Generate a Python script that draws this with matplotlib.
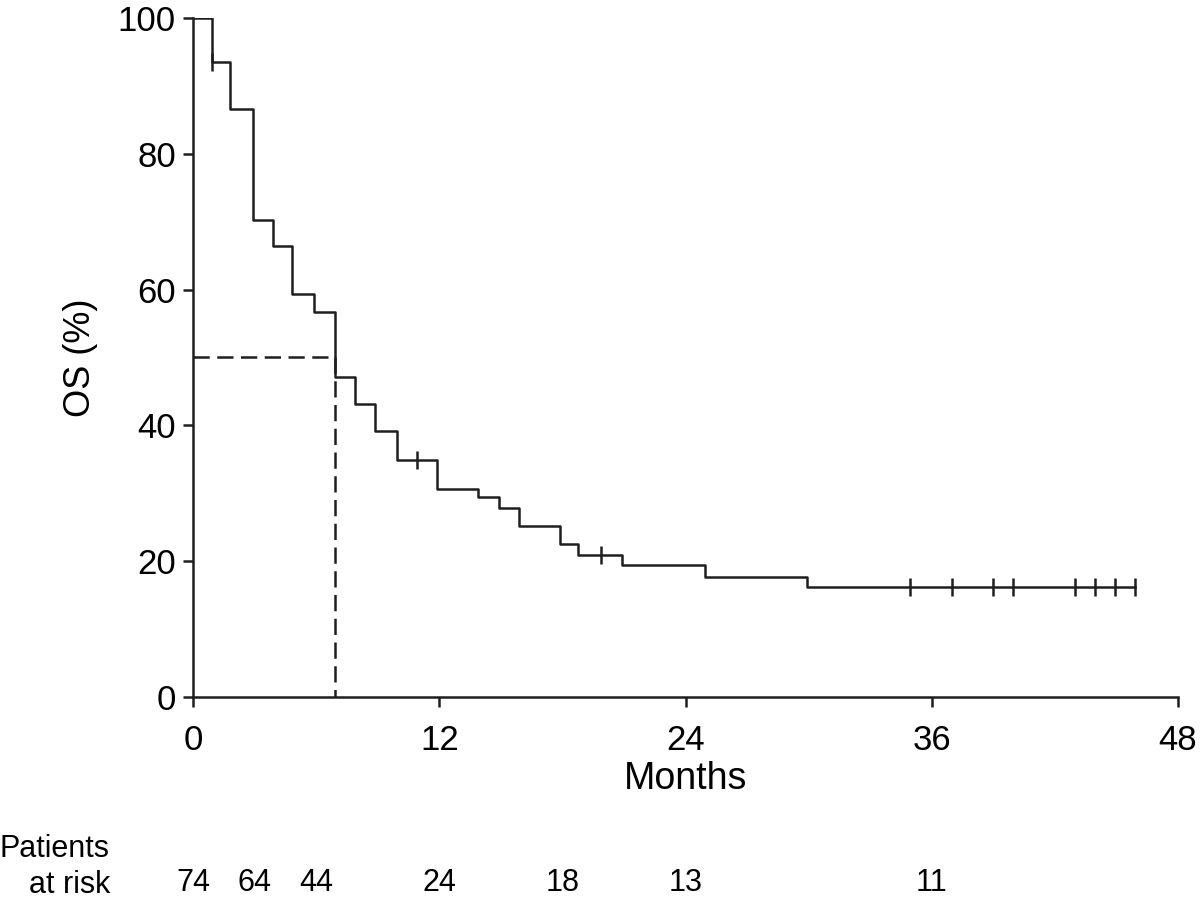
import numpy as np
from matplotlib import pyplot as plt

plt.rcParams['font.family'] = ['Liberation Sans', 'DejaVu Sans']

# Kaplan-Meier steps (months, OS %)
step_months = [0, 0.93, 1.8, 2.9, 3.9, 4.83, 5.89, 6.91, 7.89, 8.86, 9.92, 11.87,
               13.9, 14.9, 15.9, 17.9, 18.77, 20.88, 24.96, 29.9, 45.9]
step_os = [100, 93.6, 86.7, 70.3, 66.5, 59.4, 56.7, 47.1, 43.2, 39.1, 34.9, 30.6,
           29.4, 27.8, 25.2, 22.5, 20.9, 19.4, 17.7, 16.2, 16.2]
censor_months = [0.93, 10.93, 19.9, 34.93, 36.99, 39.0, 39.95, 42.96, 43.94, 44.93, 45.89]

median_os = 50
median_month = 6.91

risk_months = [0, 3, 6, 12, 18, 24, 36]
risk_counts = [74, 64, 44, 24, 18, 13, 11]

x_ticks = [0, 12, 24, 36, 48]
y_ticks = [0, 20, 40, 60, 80, 100]


def censor_levels(times):
    idx = np.searchsorted(step_months, times, side='right') - 1
    return [step_os[i] for i in idx]


fig = plt.figure(figsize=(12, 9.02), dpi=100)
ax = fig.add_axes([0.161, 0.2277, 0.8207, 0.752])

lw = 1.8
ink = '#1e1e1e'
ax.step(step_months, step_os, where='post', color=ink, lw=lw, zorder=3)
ax.plot(censor_months, censor_levels(censor_months), ls='none', marker='|',
        markersize=13, markeredgewidth=lw, color=ink, zorder=3)

# median survival guide
ax.plot([0, median_month], [median_os, median_os], color=ink, lw=lw,
        dashes=(6.5, 3), zorder=2)
ax.plot([median_month, median_month], [median_os, 0], color=ink, lw=lw,
        dashes=(6.5, 3), zorder=2)

ax.set_xlim(0, 48)
ax.set_ylim(0, 100)
ax.set_xticks(x_ticks)
ax.set_yticks(y_ticks)
ax.tick_params(direction='out', length=7.5, width=lw, labelsize=25, color=ink)
ax.tick_params(axis='x', pad=12)
ax.tick_params(axis='y', pad=5)
for side in ['top', 'right']:
    ax.spines[side].set_visible(False)
for side in ['left', 'bottom']:
    ax.spines[side].set_linewidth(lw)
    ax.spines[side].set_color(ink)

ax.set_xlabel('Months', fontsize=27, labelpad=3)
ax.set_ylabel('OS (%)', fontsize=26, labelpad=14)

# patients at risk table
risk_y = -0.275
fig.text(0.0, 1 - 849 / 902, 'Patients', fontsize=22, ha='left', va='center')
fig.text(0.092, 1 - 885 / 902, 'at risk', fontsize=22, ha='right', va='center')
for m, n in zip(risk_months, risk_counts):
    ax.text(m, risk_y, str(n), transform=ax.get_xaxis_transform(), fontsize=22,
            ha='center', va='center', clip_on=False)

fig.savefig('out.png', dpi=100, facecolor='white')
